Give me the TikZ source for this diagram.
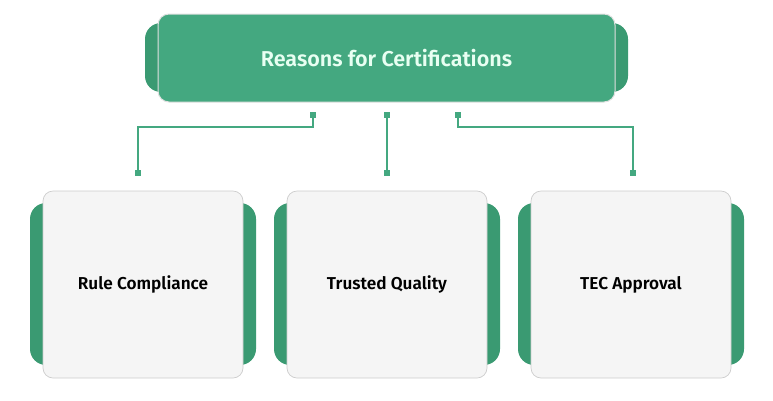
\documentclass[tikz,border=0pt]{standalone}
\usepackage{fontspec}
\setmainfont{Fira Sans}[BoldFont={Fira Sans SemiBold}]
\usetikzlibrary{positioning}

\definecolor{certgreen}{RGB}{68,168,128}
\definecolor{tabgreen}{RGB}{58,154,114}
\definecolor{mintwhite}{RGB}{232,255,242}
\definecolor{cardfill}{RGB}{245,245,245}
\definecolor{cardline}{RGB}{205,205,205}

\tikzset{
  titlebox/.style={draw=black!12, line width=1pt, fill=certgreen, rounded corners=11pt,
    minimum width=457pt, minimum height=88pt, text=mintwhite,
    font=\fontsize{21.5}{25}\selectfont\bfseries},
  cardbox/.style={draw=cardline, line width=0.7pt, fill=cardfill, rounded corners=10pt,
    minimum width=200pt, minimum height=187pt, text=black,
    font=\fontsize{17.2}{21}\selectfont\bfseries},
  tab/.style={fill=tabgreen, rounded corners=16pt},
  dot/.style={fill=certgreen, inner sep=0pt, minimum size=6.5pt},
  link/.style={draw=certgreen, line width=1.5pt}
}

\begin{document}
\begin{tikzpicture}[x=1pt, y=-1pt]
  \useasboundingbox (0,0) rectangle (773,400);

  % title card with its green tabs
  \fill[tab] (145,23) rectangle (628,92);
  \node[titlebox] (title) at (386.5,58) {Reasons for Certifications};

  % three cards
  \foreach \cx/\nm/\txt in {143/rule/Rule Compliance, 387/trust/Trusted Quality, 631/tec/TEC Approval}{
    \fill[tab] (\cx-113,203) rectangle (\cx+113,365);
    \node[cardbox] (\nm) at (\cx,284.5) {\txt};
  }

  % connector ends
  \node[dot] (t1) at (313,115) {};
  \node[dot] (t2) at (387,115) {};
  \node[dot] (t3) at (458,115) {};
  \node[dot] (b1) at (138,173) {};
  \node[dot] (b2) at (387,173) {};
  \node[dot] (b3) at (633,173) {};
  \coordinate (k1) at (138,127);
  \coordinate (k3) at (633,127);

  \draw[link] (t1.center) |- (k1) -- (b1.center);
  \draw[link] (t2.center) -- (b2.center);
  \draw[link] (t3.center) |- (k3) -- (b3.center);
\end{tikzpicture}
\end{document}
